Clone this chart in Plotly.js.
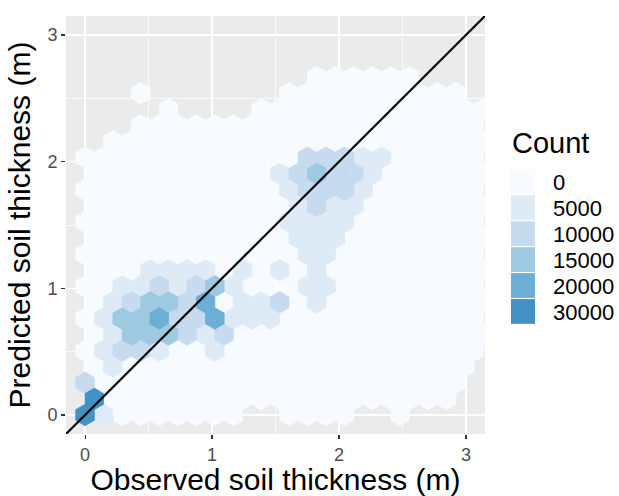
<!DOCTYPE html>
<html><head><meta charset="utf-8">
<script src="https://cdn.plot.ly/plotly-3.0.1.min.js"></script>
<style>html,body{margin:0;padding:0;background:#fff;} #chart{width:619px;height:496px;}</style>
</head><body><div id="chart"></div>
<script>
// Hexbin cells: one string per hex row (index 0 = bottom row, y = 0),
// one character per column: '.' = no hex, '0'..'5' = count class (legend index)
const hexRows = [
  "510000000..0000..0....", // row 0
  "50000000000000000000..", // row 1
  "200000000000000000000.", // row 2
  "010000000000000000000.", // row 3
  "0122100100000000000000", // row 4
  "0133321200000000000000", // row 5
  "0133422411100000000000", // row 6
  "0123324011201000000000", // row 7
  "0011212310001100000000", // row 8
  "0001111010101000000000", // row 9
  "0000000000001100000000", // row 10
  "0000000000011100000000", // row 11
  "0000000000011110000000", // row 12
  "0000000000012110000000", // row 13
  "0000000000012221000000", // row 14
  "0000000000123221000000", // row 15
  "0000000000002221100000", // row 16
  ".000000000000000000000", // row 17
  "...0000000000000000000", // row 18
  "....0....0000000000000", // row 19
  "...0.......0000000000.", // row 20
  "............000000...."  // row 21
];
const binWidthX = 0.146;   // hex width, data units
const binStepY = 0.127;    // row spacing, data units
const countLabels = ["0", "5000", "10000", "15000", "20000", "30000"];
const countColors = ["#F7FBFF", "#DEEBF7", "#C6DBEF", "#9ECAE1", "#6BAED6", "#4292C6"];
const axisTicks = [0, 1, 2, 3];
const axisTickLabels = ["0", "1", "2", "3"];
const identityLine = [-1, 4];

const polys = countColors.map(() => ({x: [], y: []}));
hexRows.forEach((row, k) => {
  const cy = k * binStepY;
  const off = (k % 2) * binWidthX / 2;
  for (let j = 0; j < row.length; j++) {
    const ch = row[j];
    if (ch === '.') continue;
    const c = +ch;
    const cx = j * binWidthX + off;
    const dx = binWidthX / 2, h1 = binStepY / 3, h2 = 2 * binStepY / 3;
    polys[c].x.push(cx + dx, cx, cx - dx, cx - dx, cx, cx + dx, cx + dx, null);
    polys[c].y.push(cy + h1, cy + h2, cy + h1, cy - h1, cy - h2, cy - h1, cy + h1, null);
  }
});

const traces = polys.map((p, c) => ({
  type: 'scatter', mode: 'lines', x: p.x, y: p.y,
  fill: 'toself', fillcolor: countColors[c],
  line: {color: countColors[c], width: 0.8},
  hoverinfo: 'skip', showlegend: false
}));
traces.push({
  type: 'scatter', mode: 'lines', x: identityLine, y: identityLine,
  line: {color: '#000000', width: 2.2}, hoverinfo: 'skip', showlegend: false
});

const W = 619, H = 496, ML = 66, MR = 134, MT = 16, MB = 62;
const PW = W - ML - MR, PH = H - MT - MB;
const px2paper = px => (px - ML) / PW;
const py2paper = py => (H - MB - py) / PH;

const shapes = [], annotations = [];
const keyTop = 169.3, keyStep = 25.95, keyH = 24.8, keyL = 511, keyR = 535;
countLabels.forEach((lab, i) => {
  const t = keyTop + i * keyStep;
  shapes.push({type: 'rect', xref: 'paper', yref: 'paper',
    x0: px2paper(keyL), x1: px2paper(keyR), y0: py2paper(t + keyH), y1: py2paper(t),
    fillcolor: countColors[i], line: {width: 0}, layer: 'above'});
  annotations.push({xref: 'paper', yref: 'paper', x: px2paper(551), y: py2paper(t + keyH / 2 + 1),
    xanchor: 'left', yanchor: 'middle', showarrow: false, text: lab,
    font: {size: 22, color: '#000000'}});
});
annotations.push({xref: 'paper', yref: 'paper', x: px2paper(510), y: py2paper(142.5),
  xanchor: 'left', yanchor: 'middle', showarrow: false, text: 'Count',
  font: {size: 29, color: '#000000'}});

const axisCommon = {
  range: [-0.15, 3.15], tickmode: 'array', tickvals: axisTicks, ticktext: axisTickLabels,
  ticks: 'outside', ticklen: 4, tickwidth: 1.1, tickcolor: '#333333',
  tickfont: {size: 18, color: '#4D4D4D'},
  showgrid: true, gridcolor: '#FFFFFF', gridwidth: 1.4, zeroline: false, showline: false,
  minor: {tickmode: 'linear', tick0: 0.5, dtick: 1, showgrid: true, gridcolor: '#FFFFFF', gridwidth: 0.7, ticks: ''},
  fixedrange: true
};

const layout = {
  width: W, height: H,
  margin: {l: ML, r: MR, t: MT, b: MB, pad: 0},
  paper_bgcolor: '#FFFFFF', plot_bgcolor: '#EBEBEB',
  font: {family: 'Liberation Sans, Arial, sans-serif', color: '#000000'},
  showlegend: false,
  xaxis: Object.assign({}, axisCommon, {title: {text: 'Observed soil thickness (m)', font: {size: 30, color: '#000000'}, standoff: 5}}),
  yaxis: Object.assign({}, axisCommon, {title: {text: 'Predicted soil thickness (m)', font: {size: 30, color: '#000000'}, standoff: 7}}),
  shapes: shapes, annotations: annotations
};

Plotly.newPlot('chart', traces, layout, {staticPlot: true, displayModeBar: false});
</script></body></html>
